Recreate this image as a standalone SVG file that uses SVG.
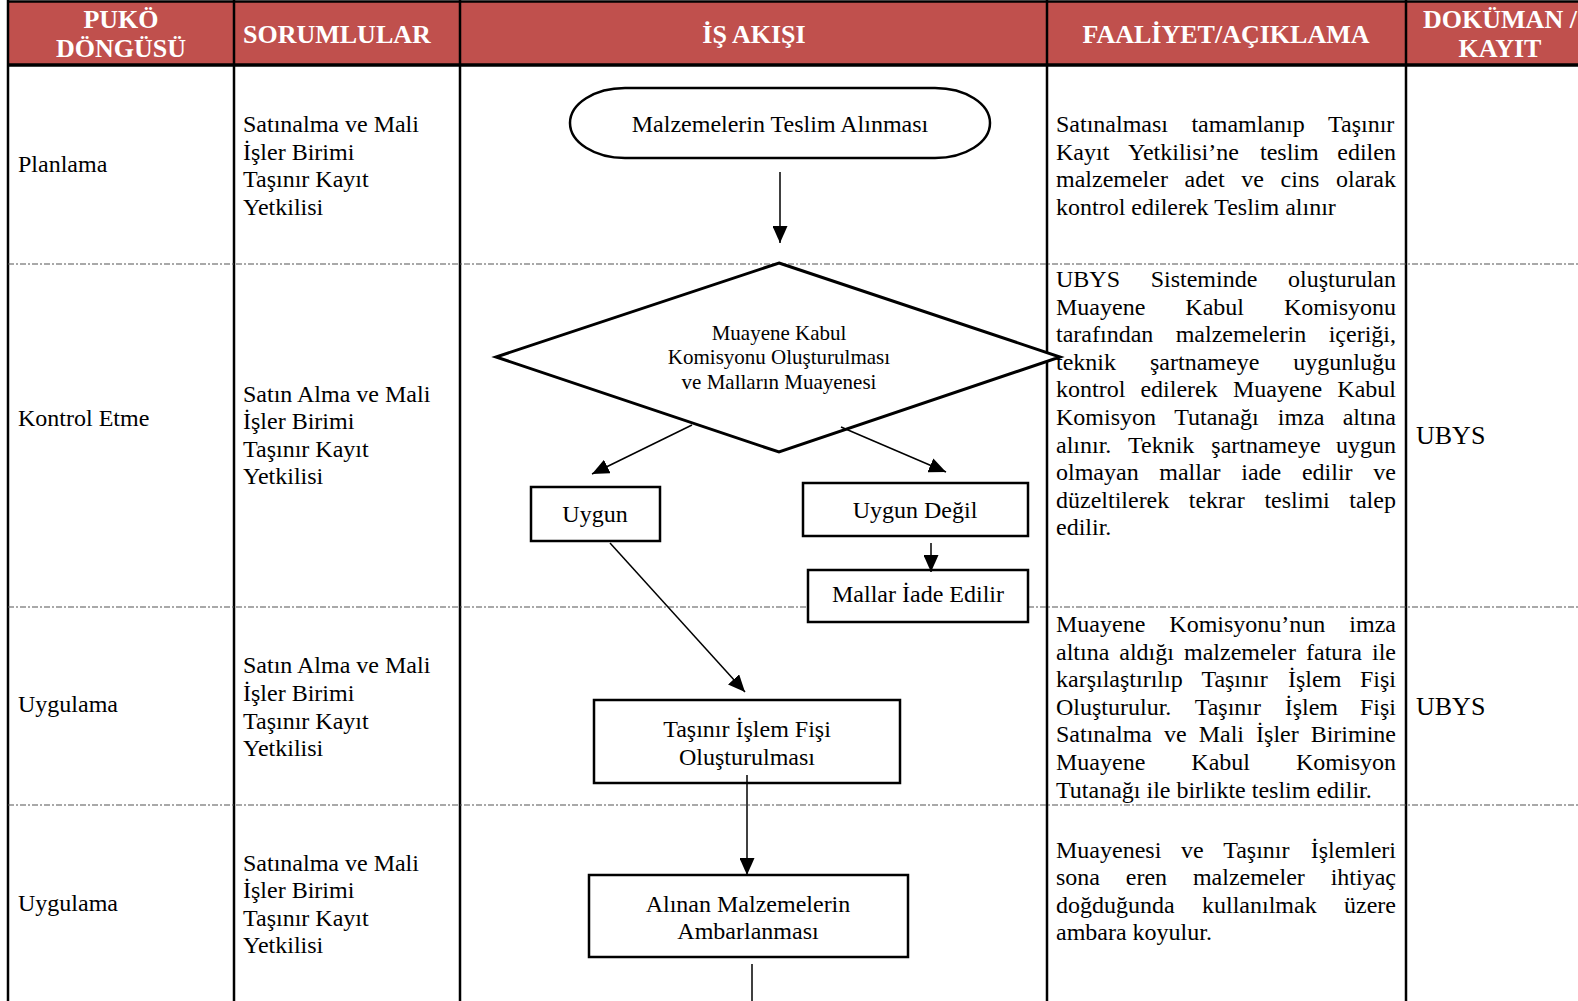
<svg xmlns="http://www.w3.org/2000/svg" width="1578" height="1001" viewBox="0 0 1578 1001">
<defs>
<style>
.hd{font-family:"Liberation Serif","Times New Roman",serif;font-weight:bold;font-size:26px;fill:#fff}
.t{font-family:"Liberation Serif","Times New Roman",serif;font-size:24px;fill:#000}
.td{font-family:"Liberation Serif","Times New Roman",serif;font-size:21px;fill:#000}
.u{font-family:"Liberation Serif","Times New Roman",serif;font-size:26px;fill:#000}
.grid{stroke:#000;stroke-width:2.5;fill:none}
.sep{stroke:#555;stroke-width:1.2;stroke-dasharray:6 2 2 2;fill:none}
.shape{fill:#fff;stroke:#000;stroke-width:2.5}
.conn{stroke:#000;stroke-width:1.5;fill:none}
</style>
<marker id="arr" markerUnits="userSpaceOnUse" markerWidth="17" markerHeight="15" refX="17" refY="7.5" orient="auto">
<path d="M0,0 L17,7.5 L0,15 Z" fill="#000"/>
</marker>
</defs>
<rect width="1578" height="1001" fill="#fff"/>

<g id="table">
<rect x="8" y="1" width="1570" height="63" fill="#C0504D"/>
<line class="grid" x1="8" y1="1.5" x2="1578" y2="1.5"/>
<line class="grid" x1="8" y1="65" x2="1578" y2="65" style="stroke-width:3.5"/>
<line class="grid" x1="8" y1="0" x2="8" y2="1001"/>
<line class="grid" x1="234" y1="0" x2="234" y2="1001"/>
<line class="grid" x1="460" y1="0" x2="460" y2="1001"/>
<line class="grid" x1="1047" y1="0" x2="1047" y2="1001"/>
<line class="grid" x1="1406" y1="0" x2="1406" y2="1001"/>
<line class="sep" x1="8" y1="264" x2="1578" y2="264"/>
<line class="sep" x1="8" y1="607" x2="1578" y2="607"/>
<line class="sep" x1="8" y1="805" x2="1578" y2="805"/>
<text class="hd" text-anchor="middle" x="121" y="28">PUKÖ</text>
<text class="hd" text-anchor="middle" x="121" y="57">DÖNGÜSÜ</text>
<text class="hd" x="243" y="43">SORUMLULAR</text>
<text class="hd" text-anchor="middle" x="754" y="43">İŞ AKIŞI</text>
<text class="hd" text-anchor="middle" x="1226" y="43">FAALİYET/AÇIKLAMA</text>
<text class="hd" text-anchor="middle" x="1500" y="28">DOKÜMAN /</text>
<text class="hd" text-anchor="middle" x="1500" y="57">KAYIT</text>
</g>

<g id="puko">
<text class="t" x="18" y="172">Planlama</text>
<text class="t" x="18" y="426">Kontrol Etme</text>
<text class="t" x="18" y="712">Uygulama</text>
<text class="t" x="18" y="911">Uygulama</text>
</g>

<g id="sorumlular">
<text class="t" x="243"><tspan x="243" y="132">Satınalma ve Mali</tspan><tspan x="243" y="159.6">İşler Birimi</tspan><tspan x="243" y="187.2">Taşınır Kayıt</tspan><tspan x="243" y="214.8">Yetkilisi</tspan></text>
<text class="t" x="243"><tspan x="243" y="401.6">Satın Alma ve Mali</tspan><tspan x="243" y="429.2">İşler Birimi</tspan><tspan x="243" y="456.8">Taşınır Kayıt</tspan><tspan x="243" y="484.4">Yetkilisi</tspan></text>
<text class="t" x="243"><tspan x="243" y="673.3">Satın Alma ve Mali</tspan><tspan x="243" y="700.9">İşler Birimi</tspan><tspan x="243" y="728.5">Taşınır Kayıt</tspan><tspan x="243" y="756.1">Yetkilisi</tspan></text>
<text class="t" x="243"><tspan x="243" y="870.5">Satınalma ve Mali</tspan><tspan x="243" y="898.1">İşler Birimi</tspan><tspan x="243" y="925.7">Taşınır Kayıt</tspan><tspan x="243" y="953.3">Yetkilisi</tspan></text>
</g>

<g id="faaliyet">
<text class="t" y="132"><tspan x="1056">Satınalması</tspan><tspan x="1191.4">tamamlanıp</tspan><tspan x="1328">Taşınır</tspan></text>
<text class="t" y="159.6"><tspan x="1056">Kayıt</tspan><tspan x="1128">Yetkilisi’ne</tspan><tspan x="1260">teslim</tspan><tspan x="1337.3">edilen</tspan></text>
<text class="t" y="187.2"><tspan x="1056">malzemeler</tspan><tspan x="1184.6">adet</tspan><tspan x="1241.3">ve</tspan><tspan x="1280.6">cins</tspan><tspan x="1336">olarak</tspan></text>
<text class="t" x="1056" y="214.8">kontrol edilerek Teslim alınır</text>

<text class="t" y="287"><tspan x="1056">UBYS</tspan><tspan x="1150.7">Sisteminde</tspan><tspan x="1288">oluşturulan</tspan></text>
<text class="t" y="314.6"><tspan x="1056">Muayene</tspan><tspan x="1185.3">Kabul</tspan><tspan x="1284">Komisyonu</tspan></text>
<text class="t" y="342.2"><tspan x="1056">tarafından</tspan><tspan x="1175.7">malzemelerin</tspan><tspan x="1328.7">içeriği,</tspan></text>
<text class="t" y="369.8"><tspan x="1056">teknik</tspan><tspan x="1150">şartnameye</tspan><tspan x="1293.3">uygunluğu</tspan></text>
<text class="t" y="397.4"><tspan x="1056">kontrol</tspan><tspan x="1140.4">edilerek</tspan><tspan x="1232.9">Muayene</tspan><tspan x="1337.3">Kabul</tspan></text>
<text class="t" y="425"><tspan x="1056">Komisyon</tspan><tspan x="1174.2">Tutanağı</tspan><tspan x="1277.8">imza</tspan><tspan x="1342.7">altına</tspan></text>
<text class="t" y="452.6"><tspan x="1056">alınır.</tspan><tspan x="1128">Teknik</tspan><tspan x="1211.3">şartnameye</tspan><tspan x="1336">uygun</tspan></text>
<text class="t" y="480.2"><tspan x="1056">olmayan</tspan><tspan x="1159.3">mallar</tspan><tspan x="1241.3">iade</tspan><tspan x="1301.9">edilir</tspan><tspan x="1373.3">ve</tspan></text>
<text class="t" y="507.8"><tspan x="1056">düzeltilerek</tspan><tspan x="1188.8">tekrar</tspan><tspan x="1264.4">teslimi</tspan><tspan x="1349.3">talep</tspan></text>
<text class="t" x="1056" y="535.4">edilir.</text>

<text class="t" y="632"><tspan x="1056">Muayene</tspan><tspan x="1169.3">Komisyonu’nun</tspan><tspan x="1349.3">imza</tspan></text>
<text class="t" y="659.6"><tspan x="1056">altına</tspan><tspan x="1119.3">aldığı</tspan><tspan x="1184">malzemeler</tspan><tspan x="1306">fatura</tspan><tspan x="1372">ile</tspan></text>
<text class="t" y="687.2"><tspan x="1056">karşılaştırılıp</tspan><tspan x="1201.4">Taşınır</tspan><tspan x="1288">İşlem</tspan><tspan x="1360">Fişi</tspan></text>
<text class="t" y="714.8"><tspan x="1056">Oluşturulur.</tspan><tspan x="1194.7">Taşınır</tspan><tspan x="1284.7">İşlem</tspan><tspan x="1360">Fişi</tspan></text>
<text class="t" y="742.4"><tspan x="1056">Satınalma</tspan><tspan x="1164">ve</tspan><tspan x="1198.7">Mali</tspan><tspan x="1256.1">İşler</tspan><tspan x="1310.7">Birimine</tspan></text>
<text class="t" y="770"><tspan x="1056">Muayene</tspan><tspan x="1191.3">Kabul</tspan><tspan x="1296">Komisyon</tspan></text>
<text class="t" x="1056" y="797.6">Tutanağı ile birlikte teslim edilir.</text>

<text class="t" y="857.5"><tspan x="1056">Muayenesi</tspan><tspan x="1180.9">ve</tspan><tspan x="1223.2">Taşınır</tspan><tspan x="1310.7">İşlemleri</tspan></text>
<text class="t" y="885.1"><tspan x="1056">sona</tspan><tspan x="1125.8">eren</tspan><tspan x="1192.9">malzemeler</tspan><tspan x="1330.7">ihtiyaç</tspan></text>
<text class="t" y="912.7"><tspan x="1056">doğduğunda</tspan><tspan x="1202">kullanılmak</tspan><tspan x="1344">üzere</tspan></text>
<text class="t" x="1056" y="940.3">ambara koyulur.</text>
</g>

<g id="dokuman">
<text class="u" x="1416" y="444">UBYS</text>
<text class="u" x="1416" y="714.5">UBYS</text>
</g>

<g id="n-start">
<rect class="shape" x="570" y="88" width="420" height="70" rx="55" ry="35"/>
<text class="t" text-anchor="middle" x="780" y="132">Malzemelerin Teslim Alınması</text>
</g>
<g id="n-decision">
<polygon class="shape" points="779,263 1060,357 779,452 496,357" style="stroke-width:3"/>
<text class="td" text-anchor="middle" x="779" y="340">Muayene Kabul</text>
<text class="td" text-anchor="middle" x="779" y="364">Komisyonu Oluşturulması</text>
<text class="td" text-anchor="middle" x="779" y="389">ve Malların Muayenesi</text>
</g>
<g id="n-uygun">
<rect class="shape" x="531" y="487" width="129" height="54"/>
<text class="t" text-anchor="middle" x="595" y="522">Uygun</text>
</g>
<g id="n-uygundegil">
<rect class="shape" x="803" y="483" width="225" height="53"/>
<text class="t" text-anchor="middle" x="915" y="518">Uygun Değil</text>
</g>
<g id="n-iade">
<rect class="shape" x="808" y="570" width="220" height="52"/>
<text class="t" text-anchor="middle" x="918" y="602">Mallar İade Edilir</text>
</g>
<g id="n-fis">
<rect class="shape" x="594" y="700" width="306" height="83"/>
<text class="t" text-anchor="middle" x="747" y="737">Taşınır İşlem Fişi</text>
<text class="t" text-anchor="middle" x="747" y="765">Oluşturulması</text>
</g>
<g id="n-ambar">
<rect class="shape" x="589" y="875" width="319" height="82"/>
<text class="t" text-anchor="middle" x="748" y="912">Alınan Malzemelerin</text>
<text class="t" text-anchor="middle" x="748" y="939">Ambarlanması</text>
</g>

<g id="connectors">
<line class="conn" x1="780" y1="172" x2="780" y2="243" marker-end="url(#arr)"/>
<line class="conn" x1="692" y1="425" x2="592" y2="474" marker-end="url(#arr)"/>
<line class="conn" x1="841" y1="427" x2="946" y2="472" marker-end="url(#arr)"/>
<line class="conn" x1="931" y1="543" x2="931" y2="572" marker-end="url(#arr)"/>
<line class="conn" x1="610" y1="543" x2="745" y2="692" marker-end="url(#arr)"/>
<line class="conn" x1="747" y1="775" x2="747" y2="875" marker-end="url(#arr)"/>
<line class="conn" x1="752" y1="964" x2="752" y2="1001"/>
</g>
</svg>
